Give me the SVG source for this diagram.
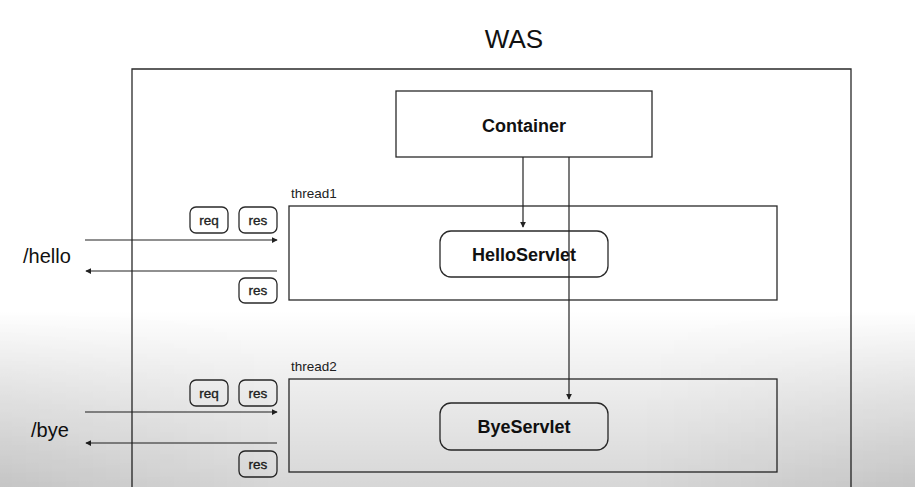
<svg xmlns="http://www.w3.org/2000/svg" width="915" height="487" viewBox="0 0 915 487">
  <defs>
    <style>
      .box { fill: none; stroke: #2a2a2a; stroke-width: 1.3; }
      .tag { fill: #ffffff; stroke: #2a2a2a; stroke-width: 1.3; }
      .line { fill: none; stroke: #222; stroke-width: 1.2; }
      .title { font-family: "Liberation Sans", Arial, sans-serif; font-size: 26px; fill: #111; }
      .name { font-family: "Liberation Sans", Arial, sans-serif; font-size: 18px; font-weight: bold; fill: #111; }
      .path { font-family: "Liberation Sans", Arial, sans-serif; font-size: 20px; fill: #111; }
      .small { font-family: "Liberation Sans", Arial, sans-serif; font-size: 13.5px; fill: #222; }
      .tagtext { font-family: "Liberation Sans", Arial, sans-serif; font-size: 13.5px; fill: #222; stroke: #222; stroke-width: 0.35; }
    </style>
    <marker id="arrow" viewBox="0 0 8 8" refX="7" refY="4" markerWidth="6" markerHeight="6" markerUnits="userSpaceOnUse" orient="auto">
      <path d="M0,0 L8,4 L0,8 z" fill="#222"/>
    </marker>
    <linearGradient id="shadeV" x1="0" y1="0" x2="0" y2="1">
      <stop offset="0" stop-color="#000" stop-opacity="0"/>
      <stop offset="0.35" stop-color="#000" stop-opacity="0.06"/>
      <stop offset="1" stop-color="#000" stop-opacity="0.16"/>
    </linearGradient>
    <linearGradient id="shadeH" x1="0" y1="0" x2="1" y2="0">
      <stop offset="0" stop-color="#000" stop-opacity="0.08"/>
      <stop offset="0.3" stop-color="#000" stop-opacity="0"/>
      <stop offset="0.7" stop-color="#000" stop-opacity="0"/>
      <stop offset="1" stop-color="#000" stop-opacity="0.08"/>
    </linearGradient>
    <linearGradient id="fadeIn" x1="0" y1="0" x2="0" y2="1">
      <stop offset="0" stop-color="#fff" stop-opacity="0"/>
      <stop offset="1" stop-color="#fff" stop-opacity="1"/>
    </linearGradient>
    <mask id="lowerFade" maskUnits="userSpaceOnUse" x="0" y="0" width="915" height="487">
      <rect x="0" y="310" width="915" height="177" fill="url(#fadeIn)"/>
    </mask>
  </defs>

  <rect x="0" y="0" width="915" height="487" fill="#ffffff"/>

  <!-- WAS frame -->
  <g id="was">
    <text class="title" x="514" y="48" text-anchor="middle">WAS</text>
    <path class="box" d="M132,490 V69 H851 V490"/>
  </g>

  <g id="container">
    <rect class="box" x="396" y="91" width="256" height="66"/>
    <text class="name" x="524" y="132" text-anchor="middle">Container</text>
  </g>

  <!-- thread 1 -->
  <g id="thread1">
    <text class="small" x="291" y="198">thread1</text>
    <rect class="box" x="289" y="206" width="488" height="94"/>
  </g>
  <g id="hello-servlet">
    <rect class="box" x="440" y="231" width="168" height="46" rx="11"/>
    <text class="name" x="524" y="261" text-anchor="middle">HelloServlet</text>
  </g>
  <g id="hello-req">
    <rect class="tag" x="190" y="207" width="38" height="26" rx="6"/>
    <text class="tagtext" x="209" y="225" text-anchor="middle">req</text>
  </g>
  <g id="hello-res-in">
    <rect class="tag" x="239" y="207" width="38" height="26" rx="6"/>
    <text class="tagtext" x="258" y="225" text-anchor="middle">res</text>
  </g>
  <g id="hello-res-out">
    <rect class="tag" x="239" y="278" width="38" height="25" rx="6"/>
    <text class="tagtext" x="258" y="295" text-anchor="middle">res</text>
  </g>
  <g id="hello-path">
    <text class="path" x="23" y="263">/hello</text>
  </g>

  <!-- thread 2 -->
  <g id="thread2">
    <text class="small" x="291" y="371">thread2</text>
    <rect class="box" x="289" y="379" width="488" height="93"/>
  </g>
  <g id="bye-servlet">
    <rect class="box" x="440" y="403" width="168" height="47" rx="11"/>
    <text class="name" x="524" y="433" text-anchor="middle">ByeServlet</text>
  </g>
  <g id="bye-req">
    <rect class="tag" x="190" y="380" width="38" height="26" rx="6"/>
    <text class="tagtext" x="209" y="398" text-anchor="middle">req</text>
  </g>
  <g id="bye-res-in">
    <rect class="tag" x="239" y="380" width="38" height="26" rx="6"/>
    <text class="tagtext" x="258" y="398" text-anchor="middle">res</text>
  </g>
  <g id="bye-res-out">
    <rect class="tag" x="239" y="451" width="38" height="26" rx="6"/>
    <text class="tagtext" x="258" y="469" text-anchor="middle">res</text>
  </g>
  <g id="bye-path">
    <text class="path" x="31" y="437">/bye</text>
  </g>

  <!-- connectors -->
  <g id="connectors">
    <line class="line" x1="523" y1="157" x2="523" y2="227" marker-end="url(#arrow)"/>
    <line class="line" x1="569" y1="157" x2="569" y2="399" marker-end="url(#arrow)"/>
    <line class="line" x1="85" y1="240" x2="277" y2="240" marker-end="url(#arrow)"/>
    <line class="line" x1="277" y1="271" x2="86" y2="271" marker-end="url(#arrow)"/>
    <line class="line" x1="85" y1="412" x2="277" y2="412" marker-end="url(#arrow)"/>
    <line class="line" x1="277" y1="443" x2="86" y2="443" marker-end="url(#arrow)"/>
  </g>

  <!-- soft grey shading over the lower part -->
  <rect x="0" y="310" width="915" height="177" fill="url(#shadeV)"/>
  <rect x="0" y="310" width="915" height="177" fill="url(#shadeH)" mask="url(#lowerFade)"/>
</svg>
